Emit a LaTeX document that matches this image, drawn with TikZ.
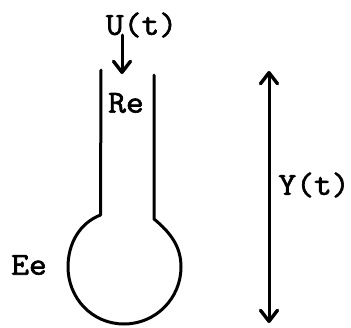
\documentclass[tikz,border=0pt]{standalone}
\usepackage{fontspec}
\newfontfamily\labfont{Latin Modern Mono}[FakeBold=2,FakeStretch=1.08]
\usetikzlibrary{arrows.meta}
\tikzset{
  wall/.style={line width=3pt,line cap=round,line join=round},
  arrowline/.style={line width=3pt,line cap=round},
  lab/.style={font=\labfont\fontsize{32}{32}\selectfont,inner sep=0pt,text=black},
  barb/.tip={Straight Barb[length=11pt,width=17pt,line width=3.4pt,round]}
}
\begin{document}
\begin{tikzpicture}[x=1pt,y=-1pt]
\useasboundingbox (0,0) rectangle (351,327);
\node[lab] (u) at (141.5,25) {U(t)};
\node[lab] (re) at (126,103) {Re};
\node[lab] (ee) at (29,265) {Ee};
\node[lab] (y) at (314,185) {Y(t)};
\coordinate (ustart) at (122,35);
\coordinate (uend) at (122,74);
\coordinate (ytop) at (269,71);
\coordinate (ybot) at (269,323);
\coordinate (lt) at (101,70);
\coordinate (lb) at (100.5,215);
\coordinate (rt) at (154,75);
\coordinate (rb) at (154,219);
\draw[arrowline,-{barb}] (ustart) -- (uend);
\draw[arrowline,{barb}-{barb}] (ytop) -- (ybot);
\draw[wall] (lt) -- (lb)
  .. controls (80,223) and (68,243) .. (68,267)
  .. controls (68,298) and (92,324) .. (124,324)
  .. controls (156,324) and (181,298) .. (181,267)
  .. controls (181,247) and (171,233) .. (154,219) -- (rt);
\end{tikzpicture}
\end{document}
